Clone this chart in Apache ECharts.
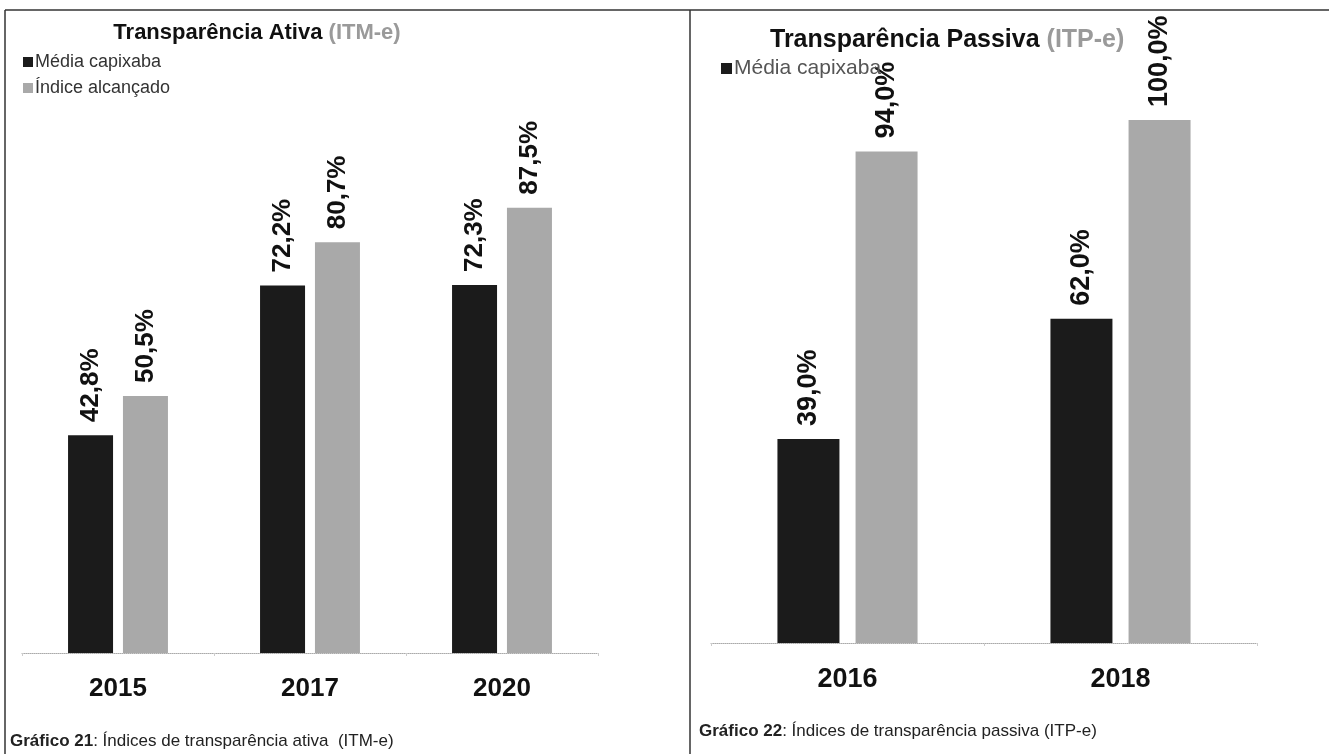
<!DOCTYPE html>
<html>
<head>
<meta charset="utf-8">
<script src="https://cdn.jsdelivr.net/npm/echarts@6/dist/echarts.min.js"></script>
<style>
  html, body { margin: 0; padding: 0; background: #fff; }
  #chart { width: 1329px; height: 754px; }
</style>
</head>
<body>
<div id="chart"></div>
<script>
// dados - Transparência Ativa (ITM-e)
const anosAtiva = ['2015', '2017', '2020']
const mediaAtiva = [42.8, 72.2, 72.3]
const indiceAtiva = [50.5, 80.7, 87.5]

// dados - Transparência Passiva (ITP-e)
const anosPassiva = ['2016', '2018']
const mediaPassiva = [39.0, 62.0]
const indicePassiva = [94.0, 100.0]

const escuro = '#1b1b1b'
const cinza = '#a9a9a9'
const fonte = 'Liberation Sans, Arial, sans-serif'

const ec = echarts.init(document.getElementById('chart'))

function pct (p) {
    return p.value.toFixed(1).replace('.', ',') + '%'
}

function rotulo (size) {
    return {
        show: true,
        position: 'top',
        rotate: 90,
        align: 'left',
        verticalAlign: 'middle',
        distance: 13,
        formatter: pct,
        color: '#111',
        fontSize: size,
        fontWeight: 'bold',
        fontFamily: fonte
    }
}

function eixoX (idx, anos, size) {
    return {
        type: 'category',
        gridIndex: idx,
        data: anos,
        axisLine: { lineStyle: { color: '#aaa', type: 'dotted', width: 1 } },
        axisTick: { show: true, length: 3, lineStyle: { color: '#ccc' } },
        axisLabel: { color: '#111', fontSize: size, fontWeight: 'bold', fontFamily: fonte, margin: 23 }
    }
}

function eixoY (idx) {
    return {
        type: 'value', gridIndex: idx, min: 0, max: 100,
        show: false, splitLine: { show: false }
    }
}

const option = {
    backgroundColor: '#fff',
    animation: false,
    grid: [
        { left: 22, width: 576, top: 144, bottom: 101 },
        { left: 711, width: 546, top: 120, bottom: 111 }
    ],
    xAxis: [eixoX(0, anosAtiva, 26), eixoX(1, anosPassiva, 27)],
    yAxis: [eixoY(0), eixoY(1)],
    legend: [
        {
            data: ['Média capixaba', 'Índice alcançado'],
            orient: 'vertical', left: 18, top: 48,
            icon: 'rect', itemWidth: 10, itemHeight: 10, itemGap: 8,
            textStyle: { color: '#333', fontSize: 18, fontFamily: fonte, padding: [0, 0, 0, -3] }
        },
        {
            data: ['Média capixaba'],
            left: 716, top: 53,
            icon: 'rect', itemWidth: 11, itemHeight: 11,
            textStyle: { color: '#555', fontSize: 21, fontFamily: fonte, padding: [0, 0, 0, -3] }
        }
    ],
    series: [
        {
            name: 'Média capixaba', type: 'bar', xAxisIndex: 0, yAxisIndex: 0,
            data: mediaAtiva, barWidth: 45, barGap: '22%',
            itemStyle: { color: escuro }, label: rotulo(26)
        },
        {
            name: 'Índice alcançado', type: 'bar', xAxisIndex: 0, yAxisIndex: 0,
            data: indiceAtiva, barWidth: 45, barGap: '22%',
            itemStyle: { color: cinza }, label: rotulo(26)
        },
        {
            name: 'Média capixaba', type: 'bar', xAxisIndex: 1, yAxisIndex: 1,
            data: mediaPassiva, barWidth: 62, barGap: '26%',
            itemStyle: { color: escuro }, label: rotulo(27)
        },
        {
            name: 'Índice alcançado', type: 'bar', xAxisIndex: 1, yAxisIndex: 1,
            data: indicePassiva, barWidth: 62, barGap: '26%',
            itemStyle: { color: cinza }, label: rotulo(27)
        }
    ],
    graphic: [
        // moldura
        { type: 'line', shape: { x1: 5, y1: 10, x2: 1329, y2: 10 }, style: { stroke: '#333', lineWidth: 1.5 } },
        { type: 'line', shape: { x1: 5, y1: 10, x2: 5, y2: 754 }, style: { stroke: '#333', lineWidth: 1.5 } },
        { type: 'line', shape: { x1: 690, y1: 10, x2: 690, y2: 754 }, style: { stroke: '#333', lineWidth: 1.5 } },
        // títulos
        {
            type: 'text', x: 257, y: 33,
            style: {
                text: '{a|Transparência Ativa }{b|(ITM-e)}',
                align: 'center', verticalAlign: 'middle',
                rich: {
                    a: { fontSize: 22, fontWeight: 'bold', fill: '#111', fontFamily: fonte },
                    b: { fontSize: 22, fontWeight: 'bold', fill: '#9a9a9a', fontFamily: fonte }
                }
            }
        },
        {
            type: 'text', x: 770, y: 40,
            style: {
                text: '{a|Transparência Passiva }{b|(ITP-e)}',
                align: 'left', verticalAlign: 'middle',
                rich: {
                    a: { fontSize: 25, fontWeight: 'bold', fill: '#111', fontFamily: fonte },
                    b: { fontSize: 25, fontWeight: 'bold', fill: '#9a9a9a', fontFamily: fonte }
                }
            }
        },
        // legendas dos gráficos
        {
            type: 'text', x: 10, y: 741,
            style: {
                text: '{b|Gráfico 21}{r|: Índices de transparência ativa  (ITM-e)}',
                verticalAlign: 'middle',
                rich: {
                    b: { fontSize: 17, fontWeight: 'bold', fill: '#222', fontFamily: fonte },
                    r: { fontSize: 17, fill: '#222', fontFamily: fonte }
                }
            }
        },
        {
            type: 'text', x: 699, y: 731,
            style: {
                text: '{b|Gráfico 22}{r|: Índices de transparência passiva (ITP-e)}',
                verticalAlign: 'middle',
                rich: {
                    b: { fontSize: 17, fontWeight: 'bold', fill: '#222', fontFamily: fonte },
                    r: { fontSize: 17, fill: '#222', fontFamily: fonte }
                }
            }
        }
    ]
}

ec.setOption(option)
</script>
</body>
</html>
